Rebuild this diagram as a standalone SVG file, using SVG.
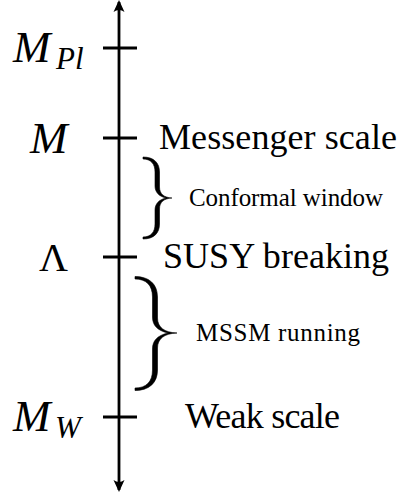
<svg xmlns="http://www.w3.org/2000/svg" width="399" height="492" viewBox="0 0 399 492">
<style>
.ax{stroke:#000;stroke-width:2.8;fill:none}
.tk{stroke:#000;stroke-width:2.8}
.br{fill:#000;stroke:#000;stroke-width:0.6}
text{font-family:"Liberation Serif",serif;fill:#000}
.math{font-style:italic}
.big{font-size:36px}
.small{font-size:25px}
</style>
<defs>
<marker id="ah" viewBox="0 0 12 12" refX="10" refY="6" markerWidth="12" markerHeight="12" markerUnits="userSpaceOnUse" orient="auto">
<path d="M12,6 L0,0.5 Q4,6 0,11.5 Z" fill="#000"/>
</marker>
</defs>
<g id="connectors">
<line class="ax" x1="119" y1="245" x2="119" y2="2" marker-end="url(#ah)"/>
<line class="ax" x1="119" y1="245" x2="119" y2="490" marker-end="url(#ah)"/>
</g>
<g id="mpl">
<line class="tk" x1="103" y1="48" x2="137" y2="48"/>
<text class="math" x="13" y="62" font-size="45">M</text>
<text class="math" x="56" y="69" font-size="31">Pl</text>
</g>
<g id="m">
<line class="tk" x1="103" y1="138" x2="137" y2="138"/>
<text class="math" x="30" y="152.5" font-size="45">M</text>
<text class="big" x="159" y="149" textLength="238">Messenger scale</text>
</g>
<g id="conformal">
<path class="br" d="M143,157 C154,157 159.5,163 159.5,172 L159.5,187 C159.5,194 164,197.5 172,198 C164,198.5 159.5,202 159.5,209 L159.5,224 C159.5,233 154,239 143,239 L143,237 C151,237 155,232 155,224 L155,210 C155,204 159,199.5 166,198 C159,196.5 155,192 155,186 L155,172 C155,164 151,159 143,159 Z"/>
<text class="small" x="189" y="206" textLength="194">Conformal window</text>
</g>
<g id="lambda">
<line class="tk" x1="103" y1="257" x2="137" y2="257"/>
<text x="39" y="271" font-size="40">Λ</text>
<text class="big" x="163" y="268" textLength="226">SUSY breaking</text>
</g>
<g id="mssm">
<path class="br" d="M135,276.5 C149,276.5 157.5,284 157.5,297 L157.5,318 C157.5,327 164,332.5 177,333 C164,333.5 157.5,339 157.5,348 L157.5,370 C157.5,383 149,390.5 135,390.5 L135,388 C146,388 152.5,382 152.5,370 L152.5,349 C152.5,341 157,335.5 168,333 C157,330.5 152.5,325 152.5,317 L152.5,297 C152.5,285 146,279 135,279 Z"/>
<text class="small" x="196" y="341" textLength="164">MSSM running</text>
</g>
<g id="mw">
<line class="tk" x1="103" y1="417" x2="137" y2="417"/>
<text class="math" x="13" y="431" font-size="45">M</text>
<text class="math" x="55" y="438" font-size="31">W</text>
<text class="big" x="185" y="428" textLength="155">Weak scale</text>
</g>
</svg>
